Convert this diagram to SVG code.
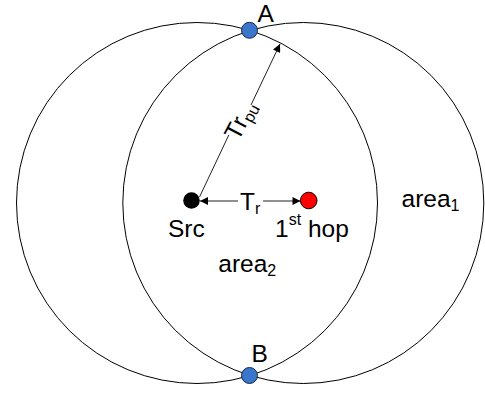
<svg xmlns="http://www.w3.org/2000/svg" width="485" height="393" viewBox="0 0 485 393">
<style>
text{font-family:"Liberation Sans",Arial,sans-serif;font-size:24.5px;fill:#000}
.sub{font-size:16px}
.area{fill:none;stroke:#000;stroke-width:1}
.conn{stroke:#222;stroke-width:1;fill:none}
.pt{fill:#3a76cc;stroke:#1a2a44;stroke-width:1}
</style>
<defs>
<marker id="ah" viewBox="0 0 10 10" refX="10" refY="5" markerWidth="9" markerHeight="8" markerUnits="userSpaceOnUse" orient="auto">
<path d="M0,0 L10,5 L0,10 z" fill="#000"/>
</marker>
</defs>
<rect width="485" height="393" fill="#fff"/>
<g id="area-left"><circle class="area" cx="197" cy="203" r="180.5"/></g>
<g id="area-right"><circle class="area" cx="303.3" cy="203" r="180.5"/></g>
<g id="connectors">
<line class="conn" x1="228.8" y1="135" x2="199.5" y2="197"/>
<line class="conn" x1="251" y1="105" x2="280" y2="44" marker-end="url(#ah)"/>
<line class="conn" x1="238" y1="201" x2="200" y2="201" marker-end="url(#ah)"/>
<line class="conn" x1="263" y1="201" x2="300.5" y2="201" marker-end="url(#ah)"/>
<text transform="translate(240,120) rotate(-62.25)" text-anchor="middle" y="8.5">Tr<tspan class="sub" dy="4">pu</tspan></text>
<text x="240" y="210">T<tspan class="sub" dy="4">r</tspan></text>
</g>
<g id="src"><circle cx="191.5" cy="200.5" r="8.3" fill="#000"/><text x="168" y="236.7">Src</text></g>
<g id="hop"><circle cx="308.7" cy="200.5" r="8.3" fill="#f00" stroke="#000" stroke-width="1"/><text x="275" y="236.7">1<tspan class="sub" dy="-12">st</tspan><tspan dy="12"> hop</tspan></text></g>
<g id="A"><circle class="pt" cx="249.5" cy="30.3" r="8"/><text x="257.5" y="22">A</text></g>
<g id="B"><circle class="pt" cx="249.5" cy="375.5" r="8"/><text x="251.5" y="362">B</text></g>
<g id="area1"><text x="401.5" y="206.7">area<tspan class="sub" dy="4">1</tspan></text></g>
<g id="area2"><text x="218.3" y="272.3">area<tspan class="sub" dy="4">2</tspan></text></g>
</svg>
